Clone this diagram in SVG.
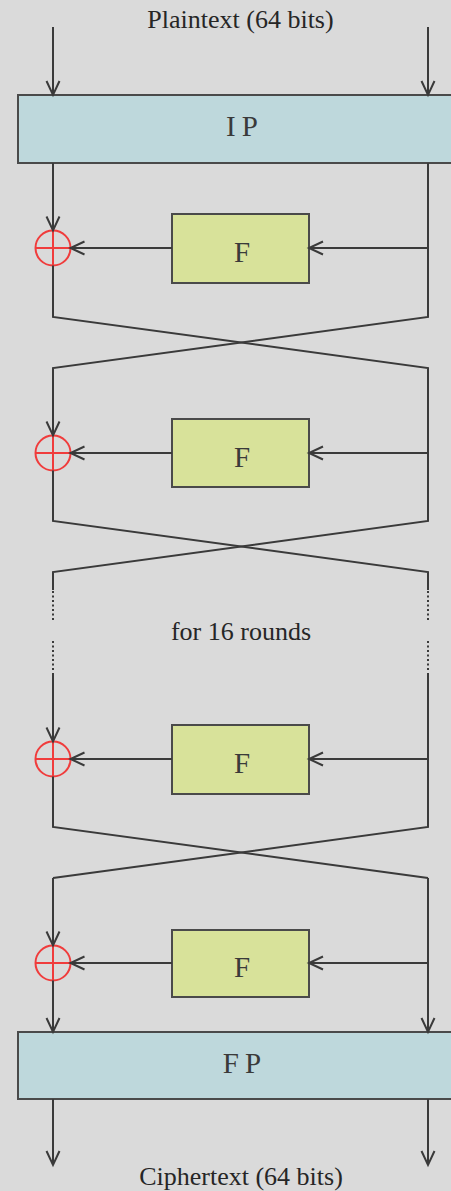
<svg xmlns="http://www.w3.org/2000/svg" width="451" height="1191" viewBox="0 0 451 1191">
<style>
.bg{fill:#dadada}
.perm{fill:#bed8dc;stroke:#4a4a4a;stroke-width:2}
.fbox{fill:#d8e29a;stroke:#4a4a4a;stroke-width:2}
.mono{font-family:"Liberation Serif","Times New Roman",serif;font-size:29px;fill:#3a3a3a;text-anchor:middle}
.lbl{font-family:"Liberation Serif","Times New Roman",serif;font-size:26px;fill:#262626;text-anchor:middle}
.ln{fill:none;stroke:#3a3a3a;stroke-width:2}
.dot{fill:none;stroke:#3a3a3a;stroke-width:2;stroke-dasharray:2 2.5}
.arr{fill:none;stroke:#3a3a3a;stroke-width:2;marker-end:url(#ah)}
.xor{fill:none;stroke:#f03c3c;stroke-width:2}
</style>
<defs>
<marker id="ah" markerUnits="userSpaceOnUse" markerWidth="20" markerHeight="20" viewBox="-16 -10 20 20" refX="0" refY="0" orient="auto">
<path d="M-14,-6.5 L0,0 L-14,6.5" fill="none" stroke="#3a3a3a" stroke-width="2"/>
</marker>
</defs>
<rect class="bg" x="0" y="0" width="451" height="1191"/>

<text class="lbl" x="240.5" y="28">Plaintext (64 bits)</text>

<g id="IP"><rect class="perm" x="18" y="95" width="446" height="68"/><text class="mono" x="245" y="136" letter-spacing="6">IP</text></g>

<g id="F1"><rect class="fbox" x="172" y="214" width="137" height="69"/><text class="mono" x="242" y="262">F</text></g>
<g id="X1"><circle class="xor" cx="53" cy="248" r="17.5"/><path class="xor" d="M35.5,248 H70.5 M53,230.5 V265.5"/></g>

<g id="F2"><rect class="fbox" x="172" y="419" width="137" height="68"/><text class="mono" x="242" y="467">F</text></g>
<g id="X2"><circle class="xor" cx="53" cy="453" r="17.5"/><path class="xor" d="M35.5,453 H70.5 M53,435.5 V470.5"/></g>

<text class="lbl" x="241" y="640">for 16 rounds</text>

<g id="F3"><rect class="fbox" x="172" y="725" width="137" height="69"/><text class="mono" x="242" y="773">F</text></g>
<g id="X3"><circle class="xor" cx="53" cy="759" r="17.5"/><path class="xor" d="M35.5,759 H70.5 M53,741.5 V776.5"/></g>

<g id="F4"><rect class="fbox" x="172" y="930" width="137" height="67"/><text class="mono" x="242" y="977">F</text></g>
<g id="X4"><circle class="xor" cx="53" cy="963" r="17.5"/><path class="xor" d="M35.5,963 H70.5 M53,945.5 V980.5"/></g>

<g id="FP"><rect class="perm" x="18" y="1032" width="446" height="67"/><text class="mono" x="245" y="1073" letter-spacing="6">FP</text></g>

<text class="lbl" x="241" y="1185">Ciphertext (64 bits)</text>

<g id="connectors">
<path class="arr" d="M53,27 V95"/>
<path class="arr" d="M428,27 V95"/>
<path class="arr" d="M53,163 V230.5"/>
<path class="arr" d="M428,248 H309"/>
<path class="arr" d="M172,248 H70.5"/>
<path class="ln" d="M53,265.5 V317 L428,368 V521 L53,572 V590"/>
<path class="arr" d="M428,163 V317 L53,368 V435.5"/>
<path class="arr" d="M428,453 H309"/>
<path class="arr" d="M172,453 H70.5"/>
<path class="ln" d="M53,470.5 V521 L428,572 V590"/>
<path class="dot" d="M53,591 V620 M53,641 V672"/>
<path class="dot" d="M428,591 V620 M428,641 V672"/>
<path class="arr" d="M53,673 V741.5"/>
<path class="arr" d="M428,759 H309"/>
<path class="arr" d="M172,759 H70.5"/>
<path class="ln" d="M428,673 V827 L53,878"/>
<path class="arr" d="M53,878 V945.5"/>
<path class="ln" d="M53,776.5 V827 L428,878"/>
<path class="arr" d="M428,878 V1032"/>
<path class="arr" d="M428,963 H309"/>
<path class="arr" d="M172,963 H70.5"/>
<path class="arr" d="M53,980.5 V1032"/>
<path class="arr" d="M53,1099 V1165"/>
<path class="arr" d="M428,1099 V1165"/>
</g>
</svg>
